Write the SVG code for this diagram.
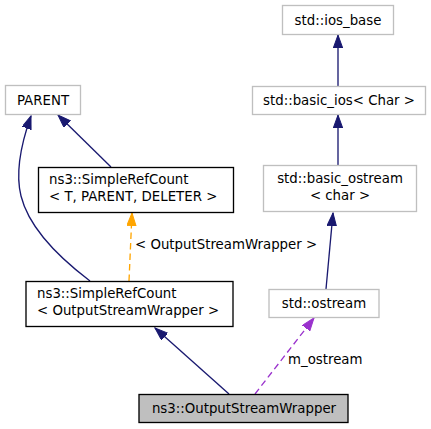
<svg xmlns="http://www.w3.org/2000/svg" width="431" height="429" viewBox="0 0 431 429">
<style>
text{font-family:"DejaVu Sans",sans-serif;font-size:13.33px;fill:#000}
.c{text-anchor:middle}
.g{fill:#fff;stroke:#bfbfbf;stroke-width:1.33}
.b{fill:#fff;stroke:#000;stroke-width:1.33}
.h{fill:#bfbfbf;stroke:#000;stroke-width:1.33}
.e{fill:none;stroke:#191970;stroke-width:1.33}
.o{fill:none;stroke:#ffa500;stroke-width:1.33;stroke-dasharray:6.5,4}
.p{fill:none;stroke:#9a32cd;stroke-width:1.33;stroke-dasharray:6.5,4}
</style>
<defs>
<marker id="an" markerUnits="userSpaceOnUse" markerWidth="14" markerHeight="10" refX="13" refY="4.7" orient="auto"><path d="M0,0 L13,4.7 L0,9.4 z" fill="#191970" stroke="#191970" stroke-width="1"/></marker>
<marker id="ao" markerUnits="userSpaceOnUse" markerWidth="14" markerHeight="10" refX="13" refY="4.7" orient="auto"><path d="M0,0 L13,4.7 L0,9.4 z" fill="#ffa500" stroke="#ffa500" stroke-width="1"/></marker>
<marker id="ap" markerUnits="userSpaceOnUse" markerWidth="14" markerHeight="10" refX="13" refY="4.7" orient="auto"><path d="M0,0 L13,4.7 L0,9.4 z" fill="#9a32cd" stroke="#9a32cd" stroke-width="1"/></marker>
</defs>
<g id="edges">
<path class="e" d="M338,86 L338,35" marker-end="url(#an)"/>
<path class="e" d="M338,165 L338,115" marker-end="url(#an)"/>
<path class="e" d="M326,289 L333,213" marker-end="url(#an)"/>
<path class="e" d="M111,167 L58,115" marker-end="url(#an)"/>
<path class="e" d="M90,281 C61,259 29,228 21,196 C15,172 21,144 31,116" marker-end="url(#an)"/>
<path class="o" d="M129,281 L132,213" marker-end="url(#ao)"/>
<path class="e" d="M229,394 L155,328" marker-end="url(#an)"/>
<path class="p" d="M255,394 L314,318" marker-end="url(#ap)"/>
<text x="135" y="249">&lt; OutputStreamWrapper &gt;</text>
<text x="288" y="364">m_ostream</text>
</g>
<g id="ios_base"><rect class="g" x="282.5" y="5.5" width="111" height="29"/><text class="c" x="338" y="24.5">std::ios_base</text></g>
<g id="basic_ios"><rect class="g" x="252.5" y="86.5" width="173" height="28"/><text class="c" x="339" y="105">std::basic_ios&lt; Char &gt;</text></g>
<g id="basic_ostream"><rect class="g" x="263.5" y="165.5" width="153" height="46"/><text class="c" x="340" y="183">std::basic_ostream</text><text class="c" x="340" y="200">&lt; char &gt;</text></g>
<g id="parent"><rect class="g" x="5.5" y="85.5" width="75" height="29"/><text class="c" x="43" y="104.5">PARENT</text></g>
<g id="src_t"><rect class="b" x="38.5" y="167.5" width="195" height="45"/><text x="49" y="184">ns3::SimpleRefCount</text><text x="49" y="201">&lt; T, PARENT, DELETER &gt;</text></g>
<g id="src_osw"><rect class="b" x="26" y="281.5" width="207" height="45"/><text x="37" y="298">ns3::SimpleRefCount</text><text x="37" y="315">&lt; OutputStreamWrapper &gt;</text></g>
<g id="ostream"><rect class="g" x="269" y="289.5" width="110" height="28"/><text class="c" x="324" y="308">std::ostream</text></g>
<g id="osw"><rect class="h" x="139" y="394.5" width="209" height="28"/><text class="c" x="244" y="413">ns3::OutputStreamWrapper</text></g>
</svg>
